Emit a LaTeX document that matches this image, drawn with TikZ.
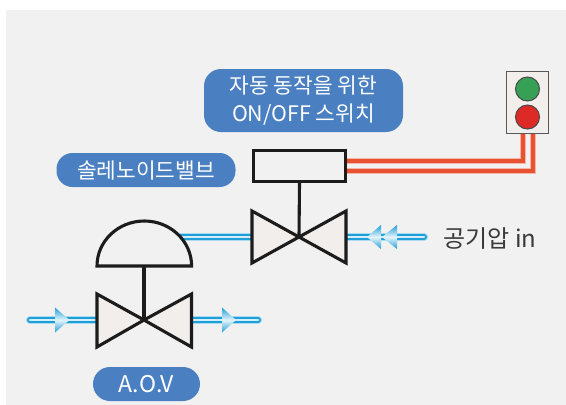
\documentclass[tikz,border=0pt]{standalone}
\usepackage{fontspec}
\setmainfont{Noto Sans CJK KR}[Scale=1]
\definecolor{panel}{HTML}{F1F1F1}
\definecolor{pill}{HTML}{4A80C2}
\definecolor{valvefill}{HTML}{F2EEEC}
\definecolor{ink}{HTML}{1C1C1C}
\definecolor{pipeblue}{HTML}{1E9FD8}
\definecolor{pipelight}{HTML}{A9DCF2}
\definecolor{wire}{HTML}{E85232}
\definecolor{wirelight}{HTML}{F4B7A6}
\definecolor{lampgreen}{HTML}{36A055}
\definecolor{lampred}{HTML}{DE2A26}
\definecolor{labeltext}{HTML}{3A3A3A}
\tikzset{
  x=1pt,y=-1pt,
  pilllabel/.style={fill=pill,text=white,align=center,inner sep=0pt,font=\fontsize{21.4}{28}\selectfont},
  valvebody/.style={draw=ink,fill=valvefill,line width=3.1pt,line join=miter},
  stem/.style={draw=ink,line width=3.1pt},
  pipeouter/.style={draw=pipelight,line width=8.4pt,line cap=round},
  pipemid/.style={draw=pipeblue,line width=6pt,line cap=round},
  pipecore/.style={draw=pipelight!50!white,line width=2.6pt,line cap=round},
  wireedge/.style={draw=wirelight,line width=5.8pt,line join=miter},
  wirecore/.style={draw=wire,line width=4.6pt,line join=miter},
}
\newcommand{\pipeline}[2]{%
  \draw[pipeouter] (#1) -- (#2);
  \draw[pipemid] (#1) -- (#2);
  \draw[pipecore] (#1) -- (#2);
}
% base x, tip x, centre y, half height
\newcommand{\flowmark}[4]{%
  \begin{scope}
    \clip (#1,#3-#4) -- (#2,#3) -- (#1,#3+#4) -- cycle;
    \shade[top color=pipeblue,bottom color=pipeblue,middle color=white!70!pipelight]
      (#1,#3-#4) rectangle (#2,#3+#4);
  \end{scope}
}
\begin{document}
\begin{tikzpicture}
\useasboundingbox (0,0) rectangle (566,405);
\fill[white] (0,0) rectangle (566,405);
\fill[panel] (6,10) rectangle (566,405);

% anchors
\coordinate (uc) at (299,237);
\coordinate (lc) at (144,320);
\coordinate (uin) at (424,237);
\coordinate (ur) at (347,237);
\coordinate (ul) at (252,237);
\coordinate (dome) at (178,237);
\coordinate (lin) at (30,320);
\coordinate (ll) at (97,320);
\coordinate (lr) at (192,320);
\coordinate (lout) at (258,320);
\coordinate (domebase) at (144,266);

% pipes
\pipeline{uin}{ur}
\pipeline{ul}{dome}
\pipeline{lin}{ll}
\pipeline{lr}{lout}

% flow marks
\flowmark{381}{367}{237}{12}
\flowmark{397}{382}{237}{12}
\flowmark{55}{69.5}{320}{12.5}
\flowmark{222}{236}{320}{12.5}

% solenoid, lamp
\node[draw=ink,line width=3.1pt,fill=panel,minimum width=92pt,minimum height=31pt,inner sep=0pt] (sol) at (299.5,166) {};
\node[draw=black!65,line width=1.4pt,fill=valvefill,minimum width=42pt,minimum height=62pt,inner sep=0pt] (lamp) at (527.5,102.5) {};
\node[circle,draw=ink!80,line width=1pt,fill=lampgreen,minimum size=24pt,inner sep=0pt] (grn) at (527.5,89) {};
\node[circle,draw=ink!80,line width=1pt,fill=lampred,minimum size=24pt,inner sep=0pt] (rd) at (527.5,117) {};

% wires
\coordinate (w1) at (523,161);
\coordinate (w2) at (533,171);
\foreach \s in {wireedge,wirecore}{
  \draw[\s] (sol.east |- w1) -- (w1) -- (w1 |- lamp.south);
  \draw[\s] (sol.east |- w2) -- (w2) -- (w2 |- lamp.south);
}

% valves
\draw[valvebody] (uc) -- (252,211) -- (252,263) -- cycle;
\draw[valvebody] (uc) -- (346,211) -- (346,263) -- cycle;
\draw[valvebody] (lc) -- (97,294) -- (97,347) -- cycle;
\draw[valvebody] (lc) -- (191.5,294) -- (191.5,347) -- cycle;

% stems
\draw[stem] (sol.south) -- (uc);
\draw[stem] (domebase) -- (lc);

% dome
\draw[valvebody,fill=panel] (97,266) arc[start angle=180,end angle=360,x radius=47.3,y radius=45] -- cycle;

% labels
\node[pilllabel,rounded corners=17pt,minimum width=199pt,minimum height=63pt] (top) at (303.5,100.5) {자동 동작을 위한\\ON/OFF 스위치};
\node[pilllabel,rounded corners=16pt,minimum width=179pt,minimum height=34pt] (solt) at (146,170) {솔레노이드밸브};
\node[pilllabel,rounded corners=17pt,minimum width=107pt,minimum height=34pt,font=\fontsize{23}{28}\selectfont] (aov) at (146.5,384) {A.O.V};
\node[text=labeltext,inner sep=0pt,font=\fontsize{24}{28}\selectfont] (air) at (490,239) {공기압 in};
\end{tikzpicture}
\end{document}
